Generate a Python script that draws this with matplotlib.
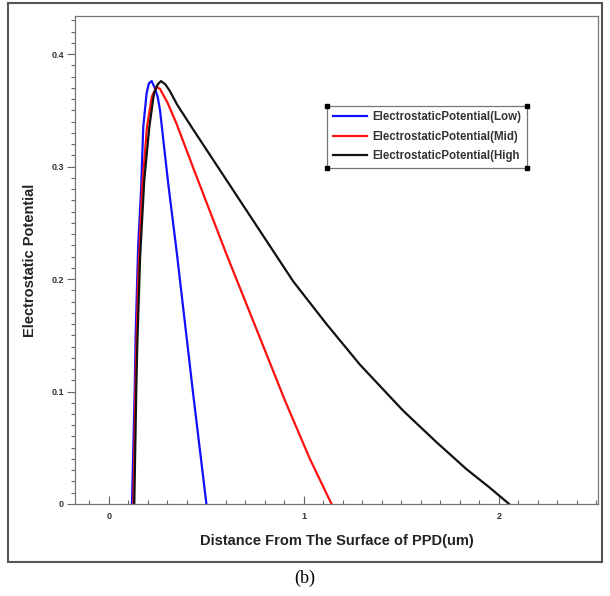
import matplotlib
matplotlib.use('Agg')
import matplotlib.pyplot as plt
from matplotlib.ticker import MultipleLocator, FixedLocator
from matplotlib.patches import Rectangle

plt.rcParams['font.family'] = ['Liberation Sans', 'DejaVu Sans']

# values
low_x = [0.118, 0.125, 0.132, 0.137, 0.150, 0.165, 0.176, 0.193, 0.205, 0.219,
         0.235, 0.250, 0.262, 0.304, 0.347, 0.432, 0.500]
low_y = [0.0, 0.05, 0.10, 0.15, 0.23, 0.28, 0.335, 0.365, 0.374, 0.376,
         0.370, 0.362, 0.350, 0.285, 0.225, 0.098, 0.0]

mid_x = [0.125, 0.132, 0.138, 0.150, 0.170, 0.195, 0.220, 0.244, 0.262, 0.300,
         0.347, 0.432, 0.603, 0.774, 0.903, 1.031, 1.142]
mid_y = [0.0, 0.06, 0.12, 0.20, 0.28, 0.335, 0.362, 0.371, 0.369, 0.357,
         0.338, 0.299, 0.222, 0.148, 0.092, 0.040, 0.0]

high_x = [0.130, 0.135, 0.140, 0.145, 0.160, 0.181, 0.207, 0.231, 0.250, 0.267,
          0.290, 0.313, 0.350, 0.432, 0.603, 0.774, 0.945, 1.116, 1.287, 1.509,
          1.680, 1.834, 1.950, 2.053]
high_y = [0.0, 0.05, 0.10, 0.139, 0.22, 0.2875, 0.335, 0.365, 0.373, 0.376,
          0.373, 0.367, 0.355, 0.333, 0.288, 0.243, 0.198, 0.160, 0.124, 0.083,
          0.055, 0.031, 0.015, 0.0]

labels = ['ElectrostaticPotential(Low)', 'ElectrostaticPotential(Mid)',
          'ElectrostaticPotential(High']

fig = plt.figure(figsize=(6.1, 5.96), dpi=100)
ax = fig.add_axes([0.123, 0.1544, 0.857, 0.819])

ax.plot(low_x, low_y, color='#1010ff', lw=1.6, label=labels[0])
ax.plot(mid_x, mid_y, color='#ff1010', lw=1.6, label=labels[1])
ax.plot(high_x, high_y, color='#111111', lw=1.6, label=labels[2])

ax.set_xlim(-0.174, 2.508)
ax.set_ylim(0, 0.434)

ax.xaxis.set_major_locator(FixedLocator([0, 1, 2]))
ax.xaxis.set_minor_locator(MultipleLocator(0.1))
ax.yaxis.set_major_locator(FixedLocator([0, 0.1, 0.2, 0.3, 0.4]))
ax.yaxis.set_minor_locator(MultipleLocator(0.01))
ax.set_xticklabels(['0', '1', '2'])
ax.set_yticklabels(['0', '0.1', '0.2', '0.3', '0.4'])

ax.tick_params(axis='x', which='both', direction='in', color='#666666')
ax.tick_params(axis='y', which='both', direction='out', color='#666666')
ax.tick_params(which='major', length=6, width=0.8)
ax.tick_params(which='minor', length=3, width=0.8)
ax.tick_params(labelsize=6.5, labelcolor='#333333')
for t in ax.get_xticklabels() + ax.get_yticklabels():
    t.set_fontweight('bold')
ax.tick_params(axis='x', pad=6)
ax.tick_params(axis='y', pad=2)
for s in ax.spines.values():
    s.set_color('#777777')
    s.set_linewidth(0.9)

ax.set_xlabel('Distance From The Surface of PPD(um)', fontsize=10.5,
              fontweight='bold', color='#222222', labelpad=9)
ax.set_ylabel('Electrostatic Potential', fontsize=10.5,
              fontweight='bold', color='#222222', labelpad=10)

leg = ax.legend(loc='upper left', bbox_to_anchor=(0.482, 0.816),
                borderaxespad=0, fontsize=8.3, handlelength=3.0,
                handletextpad=0.4, borderpad=0.5, labelspacing=0.65,
                fancybox=False, framealpha=1)
leg.get_frame().set_edgecolor('#777777')
leg.get_frame().set_linewidth(0.9)
for t in leg.get_texts():
    t.set_fontweight('bold')
    t.set_color('#333333')

# small square handles at legend corners
fig.canvas.draw()
bb = leg.get_window_extent().transformed(fig.transFigure.inverted())
fig.add_artist(plt.Line2D([bb.x0, bb.x1, bb.x0, bb.x1], [bb.y0, bb.y0, bb.y1, bb.y1],
                          ls='none', marker='s', ms=2.5, color='black',
                          transform=fig.transFigure))

# outer frame and caption
fig.add_artist(Rectangle((8 / 610, 34 / 596), 594 / 610, 559 / 596, fill=False,
                         ec='#555555', lw=1.5, transform=fig.transFigure))
fig.text(0.5, 0.03, '(b)', ha='center', va='center', fontsize=13,
         family='Liberation Serif')

fig.savefig('out.png', dpi=100)
